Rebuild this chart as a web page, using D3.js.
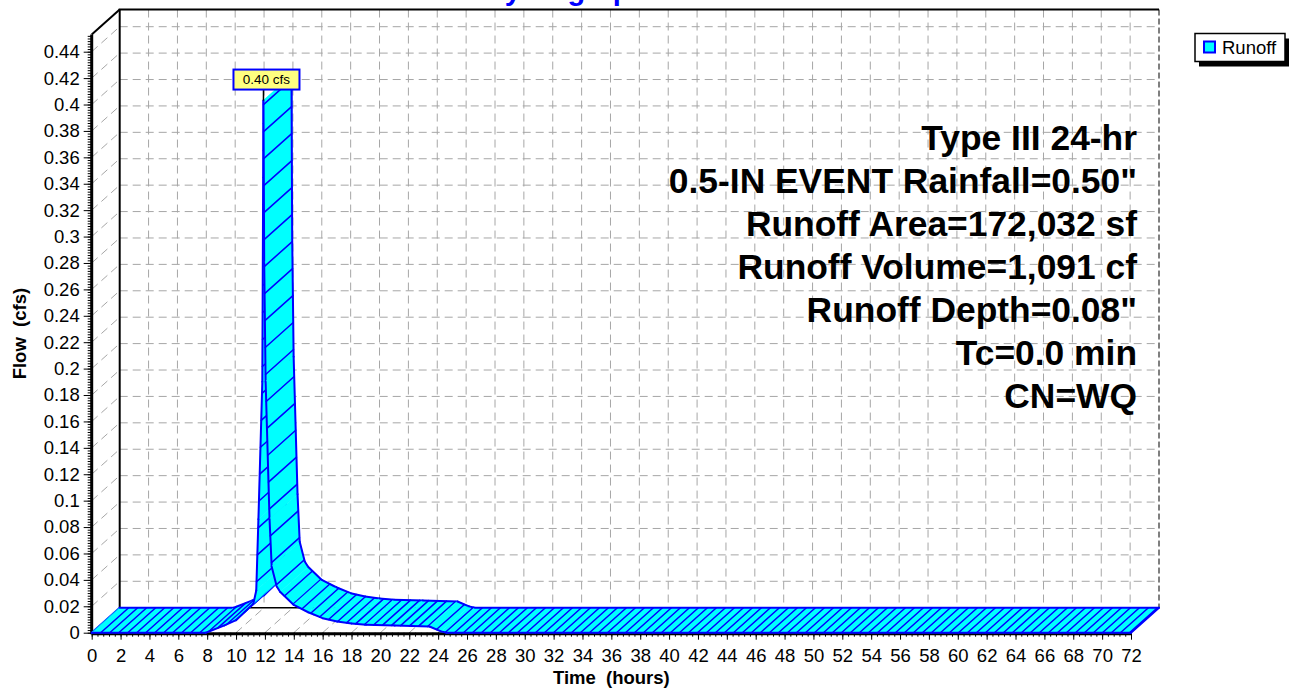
<!DOCTYPE html>
<html><head><meta charset="utf-8">
<script src="https://cdn.jsdelivr.net/npm/d3@7"></script>
<style>
body{margin:0;background:#fff}
svg{display:block}
text{font-family:Arial,"Liberation Sans",sans-serif}
</style>
</head><body>
<svg id="c" width="1294" height="688"></svg>
<script>
// ---- data ----
const hours = [0, 7.9, 9.2, 10.0, 11.2, 11.4, 11.55, 11.82, 11.9, 11.95, 12.05, 12.32, 12.47, 12.82, 13.05, 14.0, 15.0, 16.0, 17.0, 18.0, 19.0, 21.0, 23.4, 24.2, 24.6, 72];
const flow  = [0, 0, 0.0055, 0.0095, 0.022, 0.032, 0.086, 0.19, 0.403, 0.28, 0.19, 0.086, 0.05, 0.035, 0.031, 0.021, 0.0155, 0.011, 0.0085, 0.007, 0.006, 0.0055, 0.0047, 0.001, 0, 0];
const seriesName = "Runoff";
const xTickValues = [0,2,4,6,8,10,12,14,16,18,20,22,24,26,28,30,32,34,36,38,40,42,44,46,48,50,52,54,56,58,60,62,64,66,68,70,72];
const yTickValues = [0,0.02,0.04,0.06,0.08,0.1,0.12,0.14,0.16,0.18,0.2,0.22,0.24,0.26,0.28,0.3,0.32,0.34,0.36,0.38,0.4,0.42,0.44];
const titleText = "Hydrograph";
const xTitle = "Time  (hours)";
const yTitle = "Flow  (cfs)";
const notes = ["Type III 24-hr", "0.5-IN EVENT Rainfall=0.50\"", "Runoff Area=172,032 sf", "Runoff Volume=1,091 cf", "Runoff Depth=0.08\"", "Tc=0.0 min", "CN=WQ"];

// ---- layout ----
const svg = d3.select("#c");
const DX = 28, DY = -25;
const x = d3.scaleLinear().domain([0, 72]).range([91.7, 1131]);
const y = d3.scaleLinear().domain([0, 0.44]).range([632.7, 51.7]);
const yAxisTop = 0.453;
const CYAN = "#00ffff", BLUE = "#0000ff", GRID = "#a6a6a6";

const x0 = x(0), x1 = x(72), y0 = y(0), yT = y(yAxisTop);
const bx0 = x0 + DX, bx1 = x1 + DX, by0 = y0 + DY, byT = yT + DY;

// back plane grid
const grid = svg.append("g").attr("stroke", GRID).attr("stroke-width", 1).attr("stroke-dasharray", "8,5").attr("fill", "none");
grid.selectAll("line.h").data(yTickValues.filter(v => v > 0)).join("line")
  .attr("x1", bx0).attr("x2", bx1).attr("y1", d => y(d) + DY).attr("y2", d => y(d) + DY);
grid.selectAll("line.v").data(xTickValues.filter(v => v > 0 && v < 72)).join("line")
  .attr("x1", d => x(d) + DX).attr("x2", d => x(d) + DX).attr("y1", byT).attr("y2", by0);
// left wall diagonals
grid.selectAll("line.w").data(yTickValues.filter(v => v > 0)).join("line")
  .attr("x1", x0).attr("y1", d => y(d)).attr("x2", bx0).attr("y2", d => y(d) + DY);
// floor diagonals
grid.selectAll("line.f").data(xTickValues.filter(v => v > 0 && v < 72)).join("line")
  .attr("x1", d => x(d)).attr("y1", y0).attr("x2", d => x(d) + DX).attr("y2", by0);

// frame
const frame = svg.append("g").attr("stroke", "#000").attr("fill", "none");
frame.append("line").attr("x1", bx0).attr("y1", by0).attr("x2", bx0).attr("y2", byT).attr("stroke-width", 2);
frame.append("line").attr("x1", bx0 - 1).attr("y1", byT).attr("x2", bx1).attr("y2", byT).attr("stroke-width", 2);
frame.append("line").attr("x1", x0).attr("y1", yT).attr("x2", bx0).attr("y2", byT).attr("stroke-width", 2);
frame.append("line").attr("x1", bx1).attr("y1", byT).attr("x2", bx1).attr("y2", by0).attr("stroke-width", 1).attr("stroke-dasharray", "6,3");
frame.append("line").attr("x1", bx0).attr("y1", by0).attr("x2", bx1).attr("y2", by0).attr("stroke-width", 1.5);

// front axes
const yAxis = svg.append("g").attr("transform", `translate(${x0},0)`)
  .call(d3.axisLeft(y).tickValues(yTickValues).tickSize(8).tickPadding(4).tickSizeOuter(0)
    .tickFormat(d => String(+d.toFixed(2))));
const yMinor = svg.append("g").attr("transform", `translate(${x0},0)`)
  .call(d3.axisLeft(y).tickValues(d3.range(0, yAxisTop, 0.002)).tickSize(4).tickFormat("").tickSizeOuter(0));
const xAxis = svg.append("g").attr("transform", `translate(0,${y0})`)
  .call(d3.axisBottom(x).tickValues(xTickValues).tickSize(7).tickPadding(9).tickSizeOuter(0));
const xMinor = svg.append("g").attr("transform", `translate(0,${y0})`)
  .call(d3.axisBottom(x).tickValues(d3.range(0, 72.01, 0.4)).tickSize(4).tickFormat("").tickSizeOuter(0));
[yAxis, yMinor, xAxis, xMinor].forEach(g => {
  g.select(".domain").remove();
  g.selectAll(".tick line").attr("stroke", "#000").attr("stroke-width", 1);
  g.selectAll(".tick text").attr("font-size", 18.5).attr("fill", "#000").attr("font-family", "Arial, 'Liberation Sans', sans-serif");
});
svg.append("line").attr("x1", x0).attr("y1", yT).attr("x2", x0).attr("y2", y0 + 1.5).attr("stroke", "#000").attr("stroke-width", 3);
svg.append("line").attr("x1", x0).attr("y1", y0 + 1).attr("x2", x1).attr("y2", y0 + 1).attr("stroke", "#000").attr("stroke-width", 3);

// ---- 3D ribbon ----
const pts = hours.map((h, i) => ({ fx: x(h), fy: y(flow[i]) }));
const ribbon = svg.append("g").attr("stroke-linecap", "round");
const STEP = 9;
let acc = 0;
ribbon.append("line").attr("x1", pts[0].fx).attr("y1", pts[0].fy).attr("x2", pts[0].fx + DX).attr("y2", pts[0].fy + DY)
  .attr("stroke", BLUE).attr("stroke-width", 2);
for (let i = 0; i < pts.length - 1; i++) {
  const a = pts[i], b = pts[i + 1];
  const g = ribbon.append("g");
  g.append("polygon")
    .attr("points", [[a.fx, a.fy], [b.fx, b.fy], [b.fx + DX, b.fy + DY], [a.fx + DX, a.fy + DY]].map(p => p.join(",")).join(" "))
    .attr("fill", CYAN).attr("stroke", CYAN).attr("stroke-width", 0.6);
  const dx = b.fx - a.fx, dy = b.fy - a.fy;
  const len = Math.hypot(dx, dy / 3);
  let next = STEP - acc;
  while (next <= len) {
    const s = next / len;
    const px = a.fx + dx * s, py = a.fy + dy * s;
    g.append("line").attr("x1", px).attr("y1", py).attr("x2", px + DX).attr("y2", py + DY)
      .attr("stroke", BLUE).attr("stroke-width", 1.5);
    next += STEP;
  }
  acc = len - next + STEP;
  g.append("line").attr("x1", a.fx).attr("y1", a.fy).attr("x2", b.fx).attr("y2", b.fy).attr("stroke", BLUE).attr("stroke-width", 2);
  g.append("line").attr("x1", a.fx + DX).attr("y1", a.fy + DY).attr("x2", b.fx + DX).attr("y2", b.fy + DY).attr("stroke", BLUE).attr("stroke-width", 2);
}
const last = pts[pts.length - 1];
ribbon.append("line").attr("x1", last.fx).attr("y1", last.fy).attr("x2", last.fx + DX).attr("y2", last.fy + DY)
  .attr("stroke", BLUE).attr("stroke-width", 2);

// ---- peak label ----
const iPeak = d3.maxIndex(flow);
const pxp = x(hours[iPeak]), pyp = y(flow[iPeak]);
svg.append("line").attr("x1", pxp).attr("y1", pyp).attr("x2", pxp).attr("y2", pyp - 11).attr("stroke", "#000").attr("stroke-width", 1.5);
const lab = svg.append("g").attr("transform", `translate(${pxp + 3},${pyp - 21})`);
lab.append("rect").attr("x", -33).attr("y", -10).attr("width", 66).attr("height", 20).attr("fill", "#ffff80").attr("stroke", BLUE).attr("stroke-width", 2);
lab.append("text").attr("text-anchor", "middle").attr("dy", "0.36em").attr("font-size", 13.5).text(flow[iPeak].toFixed(2) + " cfs");

// ---- annotations ----
svg.append("g").selectAll("text").data(notes).join("text")
  .attr("x", 1137).attr("y", (d, i) => 137 + i * 43).attr("dy", "0.36em")
  .attr("text-anchor", "end").attr("font-weight", "bold").attr("font-size", 35.4).attr("fill", "#000").text(d => d);

// ---- titles ----
svg.append("text").attr("x", 566).attr("y", 0).attr("text-anchor", "middle").attr("font-weight", "bold")
  .attr("font-size", 29).attr("fill", BLUE).text(titleText);
svg.append("text").attr("x", (x0 + x1) / 2).attr("y", 677).attr("dy", "0.36em").attr("text-anchor", "middle")
  .attr("font-weight", "bold").attr("font-size", 18.5).style("white-space", "pre").text(xTitle);
svg.append("text").attr("transform", `translate(19,${(y0 + yT) / 2}) rotate(-90)`).attr("dy", "0.36em").attr("text-anchor", "middle")
  .attr("font-weight", "bold").attr("font-size", 18.5).style("white-space", "pre").text(yTitle);

// ---- legend ----
const lg = svg.append("g").attr("transform", "translate(1195,33.5)");
lg.append("rect").attr("x", 4).attr("y", 5).attr("width", 90).attr("height", 28).attr("fill", "#000");
lg.append("rect").attr("x", 0).attr("y", 0).attr("width", 90).attr("height", 28).attr("fill", "#fff").attr("stroke", "#000").attr("stroke-width", 1.5);
lg.append("rect").attr("x", 9).attr("y", 8).attr("width", 11).attr("height", 11).attr("fill", CYAN).attr("stroke", BLUE).attr("stroke-width", 2);
lg.append("text").attr("x", 27).attr("y", 14).attr("dy", "0.36em").attr("font-size", 18.5).text(seriesName);
</script>
</body></html>
